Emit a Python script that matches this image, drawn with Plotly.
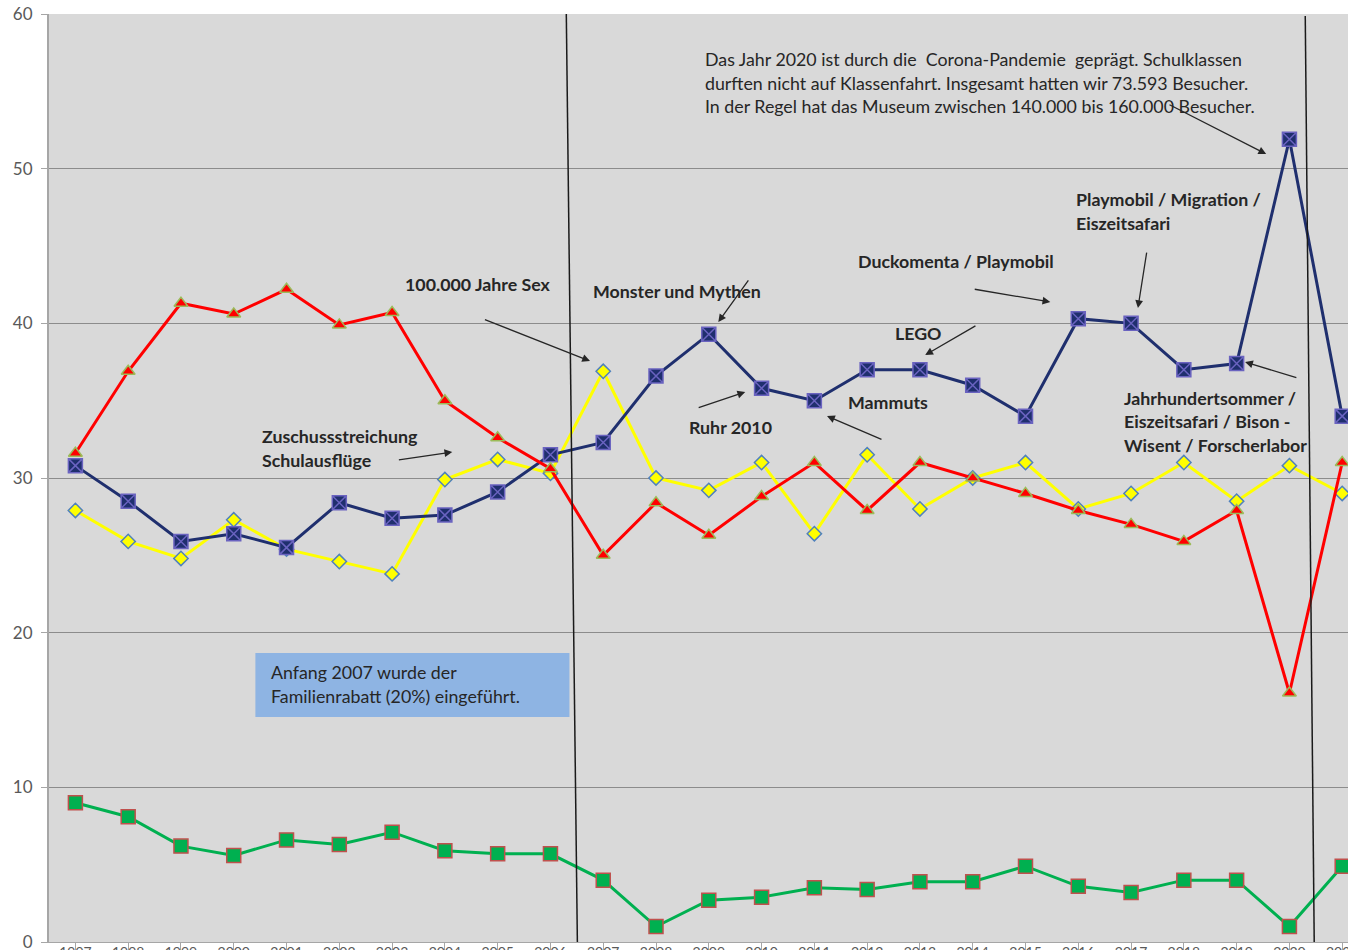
import plotly.graph_objects as go

years = [str(y) for y in range(1997, 2022)]

blue = [30.8, 28.5, 25.9, 26.4, 25.5, 28.4, 27.4, 27.6, 29.1, 31.5, 32.3, 36.6, 39.3,
        35.8, 35.0, 37.0, 37.0, 36.0, 34.0, 40.3, 40.0, 37.0, 37.4, 51.9, 34.0]
red = [31.6, 36.9, 41.3, 40.6, 42.2, 39.9, 40.7, 35.0, 32.6, 30.6, 25.0, 28.4, 26.3,
       28.8, 31.0, 27.9, 31.0, 30.0, 29.0, 27.9, 27.0, 25.9, 27.9, 16.1, 31.0]
yellow = [27.9, 25.9, 24.8, 27.3, 25.4, 24.6, 23.8, 29.9, 31.2, 30.3, 36.9, 30.0, 29.2,
          31.0, 26.4, 31.5, 28.0, 30.0, 31.0, 28.0, 29.0, 31.0, 28.5, 30.8, 29.0]
green = [9.0, 8.1, 6.2, 5.6, 6.6, 6.3, 7.1, 5.9, 5.7, 5.7, 4.0, 1.0, 2.7,
         2.9, 3.5, 3.4, 3.9, 3.9, 4.9, 3.6, 3.2, 4.0, 4.0, 1.0, 4.9]

y_ticks = [0, 10, 20, 30, 40, 50, 60]

FONT = "Lato"
TXT = "#262626"
FS = 17.8

fig = go.Figure()
xs = list(range(len(years)))

fig.add_trace(go.Scatter(x=xs, y=yellow, mode="lines+markers",
                         line=dict(color="#ffff00", width=3),
                         marker=dict(symbol="diamond", size=11, color="#ffff00",
                                     line=dict(color="#4f81bd", width=1.5))))
fig.add_trace(go.Scatter(x=xs, y=blue, mode="lines+markers",
                         line=dict(color="#1f2f6e", width=3),
                         marker=dict(symbol="square-x", size=14, color="#1f2f6e",
                                     line=dict(color="#6a63c0", width=1.5))))
fig.add_trace(go.Scatter(x=xs, y=red, mode="lines+markers",
                         line=dict(color="#ff0000", width=3),
                         marker=dict(symbol="triangle-up", size=12, color="#ff0000",
                                     line=dict(color="#9bbb59", width=1.5))))
fig.add_trace(go.Scatter(x=xs, y=green, mode="lines+markers",
                         line=dict(color="#00b050", width=3),
                         marker=dict(symbol="square", size=14, color="#00b050",
                                     line=dict(color="#c0504d", width=1.5))))

# vertical separator lines
fig.add_shape(type="line", xref="x", yref="y", x0=9.30, y0=60.13, x1=9.51, y1=0,
              line=dict(color="#1a1a1a", width=1.5))
fig.add_shape(type="line", xref="x", yref="y", x0=23.30, y0=59.87, x1=23.47, y1=0,
              line=dict(color="#1a1a1a", width=1.5))

# blue info box
fig.add_shape(type="rect", xref="x", yref="y", x0=3.41, y0=14.55, x1=9.36, y1=18.68,
              fillcolor="#8eb4e3", line=dict(width=0), layer="above")

def text(x, y, s, bold=False, size=FS):
    fig.add_annotation(x=x, y=y, xref="x", yref="y", text=("<b>%s</b>" % s) if bold else s,
                       showarrow=False, xanchor="left", yanchor="middle",
                       font=dict(family=FONT, size=size, color=TXT))

def arrow(tx, ty, hx, hy):
    fig.add_annotation(x=hx, y=hy, ax=tx, ay=ty, xref="x", yref="y", axref="x", ayref="y",
                       text="", showarrow=True, arrowhead=2, arrowsize=1.2,
                       arrowwidth=1.3, arrowcolor="#262626")

lh = 1.52  # line spacing in data units (~23.5 px)

text(3.50, 31.94 + lh / 2, "Zuschussstreichung", True)
text(3.50, 31.94 - lh / 2, "Schulausflüge", True)
arrow(6.10, 31.16, 7.14, 31.68)

text(6.21, 42.54, "100.000 Jahre Sex", True)
arrow(7.73, 40.28, 9.75, 37.56)

text(9.77, 42.09, "Monster und Mythen", True)
arrow(12.77, 42.87, 12.18, 40.08)

text(11.59, 33.30, "Ruhr 2010", True)
arrow(11.78, 34.52, 12.69, 35.56)

text(14.60, 34.91, "Mammuts", True)
arrow(15.30, 32.46, 14.24, 34.01)

text(15.49, 39.37, "LEGO", True)
arrow(17.08, 39.89, 16.10, 37.95)

text(14.79, 44.03, "Duckomenta / Playmobil", True)
arrow(17.01, 42.22, 18.47, 41.38)

text(18.92, 47.26 + lh / 2, "Playmobil / Migration /", True)
text(18.92, 47.26 - lh / 2, "Eiszeitsafari", True)
arrow(20.30, 44.67, 20.13, 40.99)

text(19.83, 33.68 + lh, "Jahrhundertsommer /", True)
text(19.83, 33.68, "Eiszeitsafari / Bison -", True)
text(19.83, 33.68 - lh, "Wisent / Forscherlabor", True)
arrow(23.16, 36.46, 22.16, 37.50)

text(11.89, 55.54 + lh, "Das Jahr 2020 ist durch die  Corona-Pandemie  geprägt. Schulklassen")
text(11.89, 55.54, "durften nicht auf Klassenfahrt. Insgesamt hatten wir 73.593 Besucher.")
text(11.89, 55.54 - lh, "In der Regel hat das Museum zwischen 140.000 bis 160.000 Besucher.")
arrow(20.70, 54.18, 22.56, 50.95)

text(3.66, 16.68 + lh / 2, "Anfang 2007 wurde der")
text(3.66, 16.68 - lh / 2, "Familienrabatt (20%) eingeführt.")

plot_w = 1348 - 48.6
fig.update_layout(
    width=1348, height=950,
    margin=dict(l=48.6, r=0, t=14, b=8, autoexpand=False),
    paper_bgcolor="white", plot_bgcolor="#d9d9d9",
    showlegend=False,
    font=dict(family=FONT, color="#595959"),
    xaxis=dict(range=[-0.5, -0.5 + plot_w / 52.8], tickmode="array", tickvals=xs,
               ticktext=years, showgrid=False, zeroline=False, showline=True,
               linecolor="#a6a6a6", linewidth=1, ticks="outside", ticklen=12,
               tickcolor="#a6a6a6", tickson="boundaries", automargin=False,
               ticklabelstandoff=-15, ticklabeloverflow="allow",
               tickfont=dict(size=14, color="#595959")),
    yaxis=dict(range=[0, 60], tickvals=y_ticks, showgrid=True, gridcolor="#8c8c8c",
               gridwidth=1, zeroline=False, showline=True, linecolor="#a6a6a6",
               linewidth=2, ticks="outside", ticklen=6, tickcolor="#a6a6a6",
               ticklabelstandoff=5, automargin=False, ticklabeloverflow="allow",
               tickfont=dict(size=17, color="#595959")),
)

fig.write_html("out.html", config={"displayModeBar": False},
               post_script="document.body.style.margin='0';")
